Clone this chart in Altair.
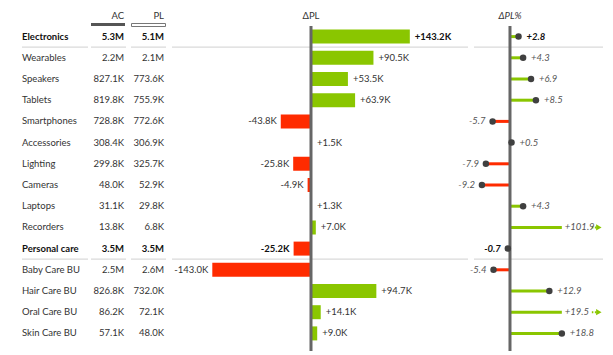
import altair as alt
import pandas as pd

categories = ["Electronics", "Wearables", "Speakers", "Tablets", "Smartphones", "Accessories",
              "Lighting", "Cameras", "Laptops", "Recorders", "Personal care", "Baby Care BU",
              "Hair Care BU", "Oral Care BU", "Skin Care BU"]
is_total = [True, False, False, False, False, False, False, False, False, False,
            True, False, False, False, False]
ac_k = [5300, 2200, 827.1, 819.8, 728.8, 308.4, 299.8, 48.0, 31.1, 13.8, 3500, 2500, 826.8, 86.2, 57.1]
pl_k = [5100, 2100, 773.6, 755.9, 772.6, 306.9, 325.7, 52.9, 29.8, 6.8, 3500, 2600, 732.0, 72.1, 48.0]
dpl_k = [143.2, 90.5, 53.5, 63.9, -43.8, 1.5, -25.8, -4.9, 1.3, 7.0, -25.2, -143.0, 94.7, 14.1, 9.0]
dpl_pct = [2.8, 4.3, 6.9, 8.5, -5.7, 0.5, -7.9, -9.2, 4.3, 101.9, -0.7, -5.4, 12.9, 19.5, 18.8]
pct_outlier = [False, False, False, False, False, False, False, False, False, True,
               False, False, False, True, False]
headers = ["AC", "PL", "ΔPL", "ΔPL%"]

GREEN = "#8AC600"
RED = "#FF2B00"
TEXT = "#333333"
AXIS = "#666666"
SEP = "#D0D0D0"
DOT = "#404040"
FONT = "Lato"
FS = 9.5

df = pd.DataFrame({
    "cat": categories, "total": is_total, "ac": ac_k, "pl": pl_k,
    "dpl": dpl_k, "pct": dpl_pct, "outlier": pct_outlier,
})

H = 318
ysc = alt.Scale(domain=categories, paddingInner=0.34, paddingOuter=0.17)
Y = alt.Y("cat:N", sort=categories, scale=ysc, axis=None)

fmt_m = "datum.{f} >= 1000 ? format(datum.{f}/1000, '.1f') + 'M' : format(datum.{f}, '.1f') + 'K'"

base = alt.Chart(df).transform_calculate(
    ac_lbl=fmt_m.format(f="ac"),
    pl_lbl=fmt_m.format(f="pl"),
    dpl_lbl="(datum.dpl > 0 ? '+' : '-') + format(abs(datum.dpl), '.1f') + 'K'",
    pct_lbl="(datum.pct > 0 ? '+' : '-') + format(abs(datum.pct), '.1f')",
    pct_disp="min(datum.pct, 17)",
)
tot = "datum.total"
ntot = "!datum.total"


def hdr(label):
    return alt.Chart(pd.DataFrame({"h": [label]}))


# ---------- panel 1: table ----------
W1 = 164
cat_n = base.transform_filter(ntot).mark_text(align="left", font=FONT, fontSize=FS, color=TEXT).encode(
    x=alt.value(14), y=Y, text="cat:N")
cat_t = base.transform_filter(tot).mark_text(align="left", font=FONT, fontSize=FS, fontWeight="bold", color="#111").encode(
    x=alt.value(14), y=Y, text="cat:N")
ac_n = base.transform_filter(ntot).mark_text(align="right", font=FONT, fontSize=FS, color=TEXT).encode(
    x=alt.value(116), y=Y, text="ac_lbl:N")
ac_t = base.transform_filter(tot).mark_text(align="right", font=FONT, fontSize=FS, fontWeight="bold", color="#111").encode(
    x=alt.value(116), y=Y, text="ac_lbl:N")
pl_n = base.transform_filter(ntot).mark_text(align="right", font=FONT, fontSize=FS, color=TEXT).encode(
    x=alt.value(156), y=Y, text="pl_lbl:N")
pl_t = base.transform_filter(tot).mark_text(align="right", font=FONT, fontSize=FS, fontWeight="bold", color="#111").encode(
    x=alt.value(156), y=Y, text="pl_lbl:N")

h_ac = hdr(headers[0]).mark_text(align="right", font=FONT, fontSize=FS, color=TEXT).encode(
    x=alt.value(116), y=alt.value(-10), text="h:N")
h_pl = hdr(headers[1]).mark_text(align="right", font=FONT, fontSize=FS, color=TEXT).encode(
    x=alt.value(156), y=alt.value(-10), text="h:N")
u_ac = hdr(headers[0]).mark_rect(color="#555555").encode(
    x=alt.value(83), x2=alt.value(117), y=alt.value(-3), y2=alt.value(0))
u_pl = hdr(headers[1]).mark_rect(fill="white", stroke="#777777", strokeWidth=1).encode(
    x=alt.value(123.5), x2=alt.value(157.5), y=alt.value(-2.5), y2=alt.value(0.5))
# invisible spacer so the plot area starts at the same height as in the reference
spacer = hdr(headers[0]).mark_rule(strokeOpacity=0).encode(
    x=alt.value(14), x2=alt.value(20), y=alt.value(-18))

seps1 = []
for a, b in [(14, 80), (83, 118), (123, 158)]:
    seps1.append(base.transform_filter(tot).mark_rule(color=SEP, strokeWidth=1, yOffset=10.5).encode(
        x=alt.value(a), x2=alt.value(b), y=Y))

p1 = alt.layer(spacer, *seps1, cat_n, cat_t, ac_n, ac_t, pl_n, pl_t, u_ac, u_pl, h_ac, h_pl).properties(width=W1, height=H)

# ---------- panel 2: ΔPL bars ----------
W2 = 298
xsc2 = alt.Scale(domain=[-201.4, 230.4], nice=False, zero=False)
X2 = alt.X("dpl:Q", scale=xsc2, axis=None)
sep2 = base.transform_filter(tot).mark_rule(color=SEP, strokeWidth=1, yOffset=10.5).encode(
    x=alt.value(0), x2=alt.value(296), y=Y)
bars = base.mark_bar(height=14).encode(
    x=X2, x2=alt.X2(datum=0), y=Y,
    color=alt.condition("datum.dpl > 0", alt.value(GREEN), alt.value(RED)))


def blabel(filt, align, dx, bold):
    return base.transform_filter(filt).mark_text(
        align=align, dx=dx, font=FONT, fontSize=FS, color="#111" if bold else TEXT,
        fontWeight="bold" if bold else "normal").encode(x=X2, y=Y, text="dpl_lbl:N")


bl = [
    blabel("!datum.total && datum.dpl > 0", "left", 5, False),
    blabel("!datum.total && datum.dpl <= 0", "right", -4, False),
    blabel("datum.total && datum.dpl > 0", "left", 5, True),
    blabel("datum.total && datum.dpl <= 0", "right", -4, True),
]
axis2 = hdr(headers[2]).mark_rule(color=AXIS, strokeWidth=3).encode(
    x=alt.X(datum=0, type="quantitative", scale=xsc2, axis=None), y=alt.value(0), y2=alt.value(H + 7))
h2 = hdr(headers[2]).mark_text(align="center", font=FONT, fontSize=FS, color=TEXT).encode(
    x=alt.X(datum=0, type="quantitative", scale=xsc2, axis=None), y=alt.value(-10), text="h:N")
p2 = alt.layer(sep2, bars, *bl, axis2, h2).properties(width=W2, height=H)

# ---------- panel 3: ΔPL% pins ----------
W3 = 135
xsc3 = alt.Scale(domain=[-13.11, 31.15], nice=False, zero=False)
X3 = alt.X("pct_disp:Q", scale=xsc3, axis=None)
sep3 = base.transform_filter(tot).mark_rule(color=SEP, strokeWidth=1, yOffset=10.5).encode(
    x=alt.value(4), x2=alt.value(133), y=Y)
stems = base.mark_rule(strokeWidth=3).encode(
    x=X3, x2=alt.X2(datum=0), y=Y,
    color=alt.condition("datum.pct > 0", alt.value(GREEN), alt.value(RED)))
dots = base.transform_filter("!datum.outlier").mark_circle(size=42, opacity=1, color=DOT).encode(x=X3, y=Y)
arrows = base.transform_filter("datum.outlier").mark_point(
    shape="triangle-right", size=40, filled=True, opacity=1, color=GREEN, xOffset=37).encode(x=X3, y=Y)
arrow_dash = base.transform_filter("datum.outlier").mark_rule(
    color=GREEN, strokeWidth=2, strokeDash=[1.5, 1.5], xOffset=30, x2Offset=35).encode(
    x=X3, x2=alt.X2("pct_disp:Q"), y=Y)


def plabel(filt, align, dx, bold):
    return base.transform_filter(filt).mark_text(
        align=align, dx=dx, font=FONT, fontSize=FS, fontStyle="italic",
        color="#111" if bold else "#555555", fontWeight="bold" if bold else "normal").encode(
        x=X3, y=Y, text="pct_lbl:N")


pl_lbls = [
    plabel("!datum.total && datum.pct > 0 && !datum.outlier", "left", 8, False),
    plabel("!datum.total && datum.pct > 0 && datum.outlier", "left", 3, False),
    plabel("!datum.total && datum.pct <= 0", "right", -7, False),
    plabel("datum.total && datum.pct > 0", "left", 8, True),
    plabel("datum.total && datum.pct <= 0", "right", -7, True),
]
axis3 = hdr(headers[3]).mark_rule(color=AXIS, strokeWidth=3).encode(
    x=alt.X(datum=0, type="quantitative", scale=xsc3, axis=None), y=alt.value(0), y2=alt.value(H + 7))
h3 = hdr(headers[3]).mark_text(align="center", font=FONT, fontSize=FS, fontStyle="italic", color=TEXT).encode(
    x=alt.X(datum=0, type="quantitative", scale=xsc3, axis=None), y=alt.value(-10), text="h:N")
p3 = alt.layer(sep3, stems, axis3, dots, arrow_dash, arrows, *pl_lbls, h3).properties(width=W3, height=H)

chart = alt.hconcat(p1, p2, p3, spacing=0, bounds="flush").properties(
    padding=0, background="white").configure_view(stroke=None)

chart.save("out.html", embed_options={"renderer": "svg", "actions": False})
